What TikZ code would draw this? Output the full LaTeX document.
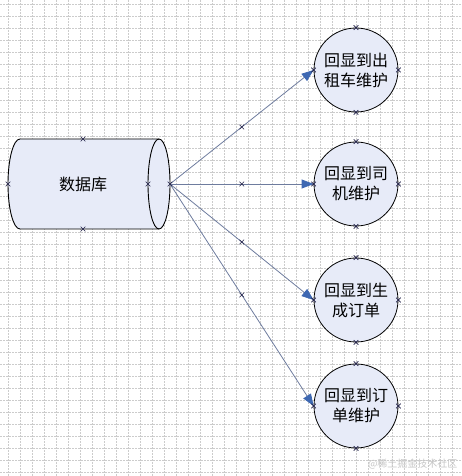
\documentclass[tikz,border=0pt]{standalone}
\usepackage{fontspec}
\newfontfamily\cjk{Noto Sans CJK SC}
\usetikzlibrary{arrows.meta}
\definecolor{shapefill}{RGB}{231,235,248}
\definecolor{linkgray}{RGB}{110,124,158}
\definecolor{tipblue}{RGB}{62,104,178}
\definecolor{marknavy}{RGB}{30,30,70}
\newcommand\pinmark[1]{\draw[pinx] (#1) +(-2.3,-2.3) -- +(2.3,2.3) +(-2.3,2.3) -- +(2.3,-2.3);}

\begin{document}
\begin{tikzpicture}
        [x=1pt, y=1pt,
        task/.style={circle, draw, line width=0.8pt, fill=shapefill, minimum size=84pt, inner sep=0pt,
          align=center, font=\cjk\fontsize{16}{20}\selectfont},
        store/.style={draw, line width=0.9pt, fill=shapefill},
        link/.style={linkgray, line width=0.8pt, -{Triangle[length=12pt, width=9pt, color=tipblue]}},
        gridline/.style={gray!40, line width=0.6pt, dash pattern=on 1.5pt off 1.5pt},
        pinx/.style={marknavy, line width=0.6pt}]

        \useasboundingbox (0,0) rectangle (462,476);

        % background grid
        \foreach \gx in {0,...,37} {
          \draw[gridline] (8.3+12*\gx,0) -- (8.3+12*\gx,476);
        }
        \foreach \gy in {0,...,39} {
          \draw[gridline] (0,472-12*\gy) -- (462,472-12*\gy);
        }

        % database drum
        \draw[store] (20,337) -- (159,337) arc[start angle=90, end angle=-90, x radius=11, y radius=45]
          -- (20,247) arc[start angle=270, end angle=90, x radius=12, y radius=45] -- cycle;
        \draw[line width=0.9pt] (159,337) arc[start angle=90, end angle=270, x radius=11, y radius=45];
        \node[font=\cjk\fontsize{16}{20}\selectfont] (db) at (83,292) {数据库};
        \coordinate (dbr) at (170,292);

        % target forms
        \node[task] (t1) at (356,406) {回显到出\\租车维护};
        \node[task] (t2) at (356,292) {回显到司\\机维护};
        \node[task] (t3) at (356,176) {回显到生\\成订单};
        \node[task] (t4) at (356,70) {回显到订\\单维护};

        % connectors
        \draw[link] (dbr) -- coordinate[midway] (m1) (t1.west);
        \draw[link] (dbr) -- coordinate[midway] (m2) (t2.west);
        \draw[link] (dbr) -- coordinate[midway] (m3) (t3.west);
        \draw[link] (dbr) -- coordinate[midway] (m4) (t4.west);

        % connection points
        \pinmark{83,337} \pinmark{83,247} \pinmark{8,292} \pinmark{148,292} \pinmark{dbr}
        \foreach \t in {t1,t2,t3,t4} {
          \pinmark{\t.north} \pinmark{\t.south} \pinmark{\t.west} \pinmark{\t.east}
        }
        \foreach \m in {m1,m2,m3,m4} {
          \pinmark{\m}
        }

        % watermark
        \node[gray!45, font=\cjk\fontsize{10}{12}\selectfont, anchor=south east] (wm) at (461,3) {@稀土掘金技术社区};

\end{tikzpicture}
\end{document}
